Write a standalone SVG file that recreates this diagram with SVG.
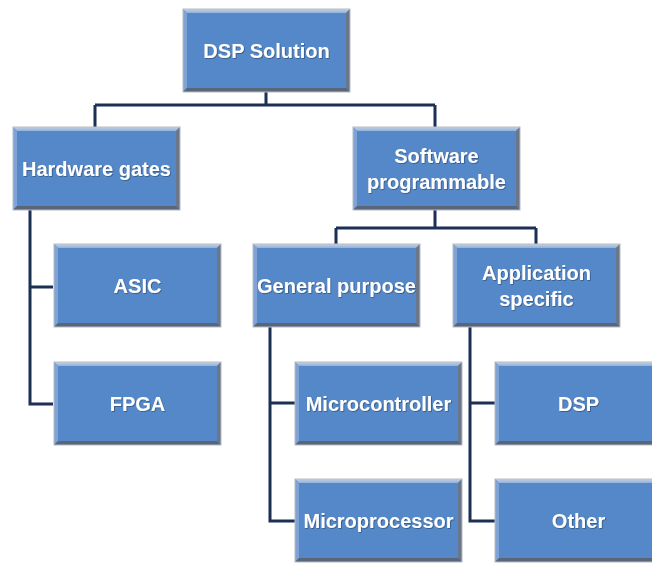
<svg xmlns="http://www.w3.org/2000/svg" xmlns:xlink="http://www.w3.org/1999/xlink" width="652" height="563" viewBox="0 0 652 563">
  <style>
    .wire { fill: none; stroke: #1c2f55; stroke-width: 3; stroke-linejoin: miter; }
    .label { font-family: "Liberation Sans", "Noto Sans", Arial, sans-serif; font-weight: bold; font-size: 20px; fill: #ffffff; text-anchor: middle; }
  </style>
  <defs>
    <linearGradient id="topEdge" x1="0" y1="0" x2="0" y2="1">
      <stop offset="0" stop-color="#c9d3df"/>
      <stop offset="1" stop-color="#8fb0dc"/>
    </linearGradient>
    <filter id="shadow" x="-10%" y="-10%" width="130%" height="130%">
      <feDropShadow dx="0.8" dy="0.8" stdDeviation="0.6" flood-color="#1d3557" flood-opacity="0.6"/>
    </filter>
    <!-- bevelled box, 167 x 83 -->
    <g id="box">
      <rect x="0" y="0" width="167" height="83" fill="#5488c8"/>
      <polygon points="0,0 167,0 163,4 4,4" fill="url(#topEdge)"/>
      <polygon points="0,0 4,4 4,79 0,83" fill="#7fa3d4"/>
      <polygon points="167,0 167,83 163,79 163,4" fill="#6b7688"/>
      <polygon points="0,83 167,83 163,79 4,79" fill="#5a6577"/>
      <rect x="0" y="0" width="167" height="83" fill="none" stroke="#b5bcc6" stroke-width="1"/>
    </g>
  </defs>
  <rect width="652" height="563" fill="#ffffff"/>

  <g id="connectors">
    <path class="wire" d="M266,92 V105 M95,105 H435 M95,105 V127 M435,105 V127"/>
    <path class="wire" d="M30,210 V404 H53 M30,287 H53"/>
    <path class="wire" d="M435,210 V228 M336,228 H536 M336,228 V244 M536,228 V244"/>
    <path class="wire" d="M270,327 V521 H295 M270,403 H295"/>
    <path class="wire" d="M470,327 V521 H495 M470,403 H495"/>
  </g>

  <g id="dsp-solution">
    <use xlink:href="#box" x="183" y="9"/>
    <text class="label" x="266.5" y="58" filter="url(#shadow)">DSP Solution</text>
  </g>
  <g id="hardware-gates">
    <use xlink:href="#box" x="13" y="127"/>
    <text class="label" x="96.5" y="176" filter="url(#shadow)">Hardware gates</text>
  </g>
  <g id="software-programmable">
    <use xlink:href="#box" x="353" y="127"/>
    <text class="label" x="436.5" y="163" filter="url(#shadow)">Software</text>
    <text class="label" x="436.5" y="189" filter="url(#shadow)">programmable</text>
  </g>
  <g id="asic">
    <use xlink:href="#box" x="54" y="244"/>
    <text class="label" x="137.5" y="293" filter="url(#shadow)">ASIC</text>
  </g>
  <g id="fpga">
    <use xlink:href="#box" x="54" y="362"/>
    <text class="label" x="137.5" y="411" filter="url(#shadow)">FPGA</text>
  </g>
  <g id="general-purpose">
    <use xlink:href="#box" x="253" y="244"/>
    <text class="label" x="336.5" y="293" filter="url(#shadow)">General purpose</text>
  </g>
  <g id="application-specific">
    <use xlink:href="#box" x="453" y="244"/>
    <text class="label" x="536.5" y="280" filter="url(#shadow)">Application</text>
    <text class="label" x="536.5" y="306" filter="url(#shadow)">specific</text>
  </g>
  <g id="microcontroller">
    <use xlink:href="#box" x="295" y="362"/>
    <text class="label" x="378.5" y="411" filter="url(#shadow)">Microcontroller</text>
  </g>
  <g id="microprocessor">
    <use xlink:href="#box" x="295" y="479"/>
    <text class="label" x="378.5" y="528" filter="url(#shadow)">Microprocessor</text>
  </g>
  <g id="dsp">
    <use xlink:href="#box" x="495" y="362"/>
    <text class="label" x="578.5" y="411" filter="url(#shadow)">DSP</text>
  </g>
  <g id="other">
    <use xlink:href="#box" x="495" y="479"/>
    <text class="label" x="578.5" y="528" filter="url(#shadow)">Other</text>
  </g>
</svg>
